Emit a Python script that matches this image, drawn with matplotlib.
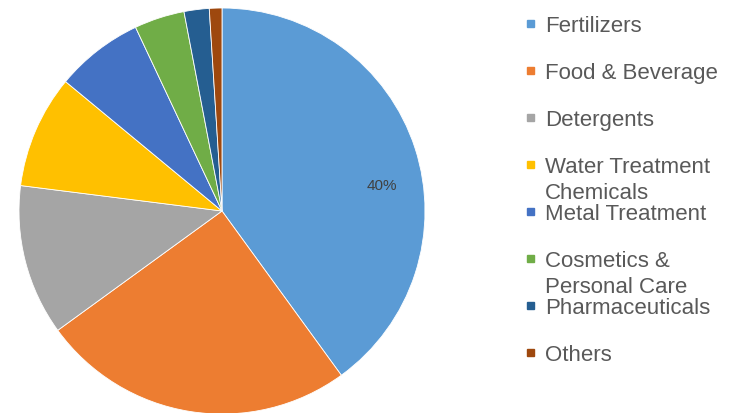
import matplotlib.pyplot as plt

# application segments and their share (%)
segments = ["Fertilizers", "Food & Beverage", "Detergents", "Water Treatment\nChemicals",
            "Metal Treatment", "Cosmetics &\nPersonal Care", "Pharmaceuticals", "Others"]
shares = [40, 25, 12, 9, 7, 4, 2, 1]
colors = ["#5B9BD5", "#ED7D31", "#A5A5A5", "#FFC000",
          "#4472C4", "#70AD47", "#255E91", "#9E480E"]

W, H = 742, 414
plt.rcParams['font.family'] = ['Liberation Sans', 'DejaVu Sans']
fig = plt.figure(figsize=(W / 100, H / 100), dpi=100)

# pie area: centre (222, 212) px, radius 203 px
cx, cy, r = 222, 212, 203
ax = fig.add_axes([(cx - r) / W, (H - cy - r) / H, 2 * r / W, 2 * r / H])
wedges, _ = ax.pie(shares, colors=colors, startangle=90, counterclock=False,
                   radius=1.0, wedgeprops=dict(edgecolor="white", linewidth=0.6))
ax.set_xlim(-1, 1)
ax.set_ylim(-1, 1)
ax.set_aspect("equal")
ax.axis("off")

# only the largest slice carries a value label
ax.text(0.79, 0.13, f"{shares[0]}%", fontsize=11, color="#404040",
        ha="center", va="center")

# legend drawn row by row: fixed pitch, wrapped labels spill downward
row0, pitch, line_h = 24, 47, 26
for i, (lab, col) in enumerate(zip(segments, colors)):
    yc = row0 + i * pitch
    fig.patches.append(plt.Rectangle((527 / W, (H - yc - 3.5) / H), 7 / W, 7 / H,
                                     transform=fig.transFigure, color=col, figure=fig))
    for k, line in enumerate(lab.split("\n")):
        fig.text(545 / W, (H - yc - 8 - k * line_h) / H, line, fontsize=16,
                 color="#595959", ha="left", va="baseline")

fig.savefig("out.png", dpi=100)
